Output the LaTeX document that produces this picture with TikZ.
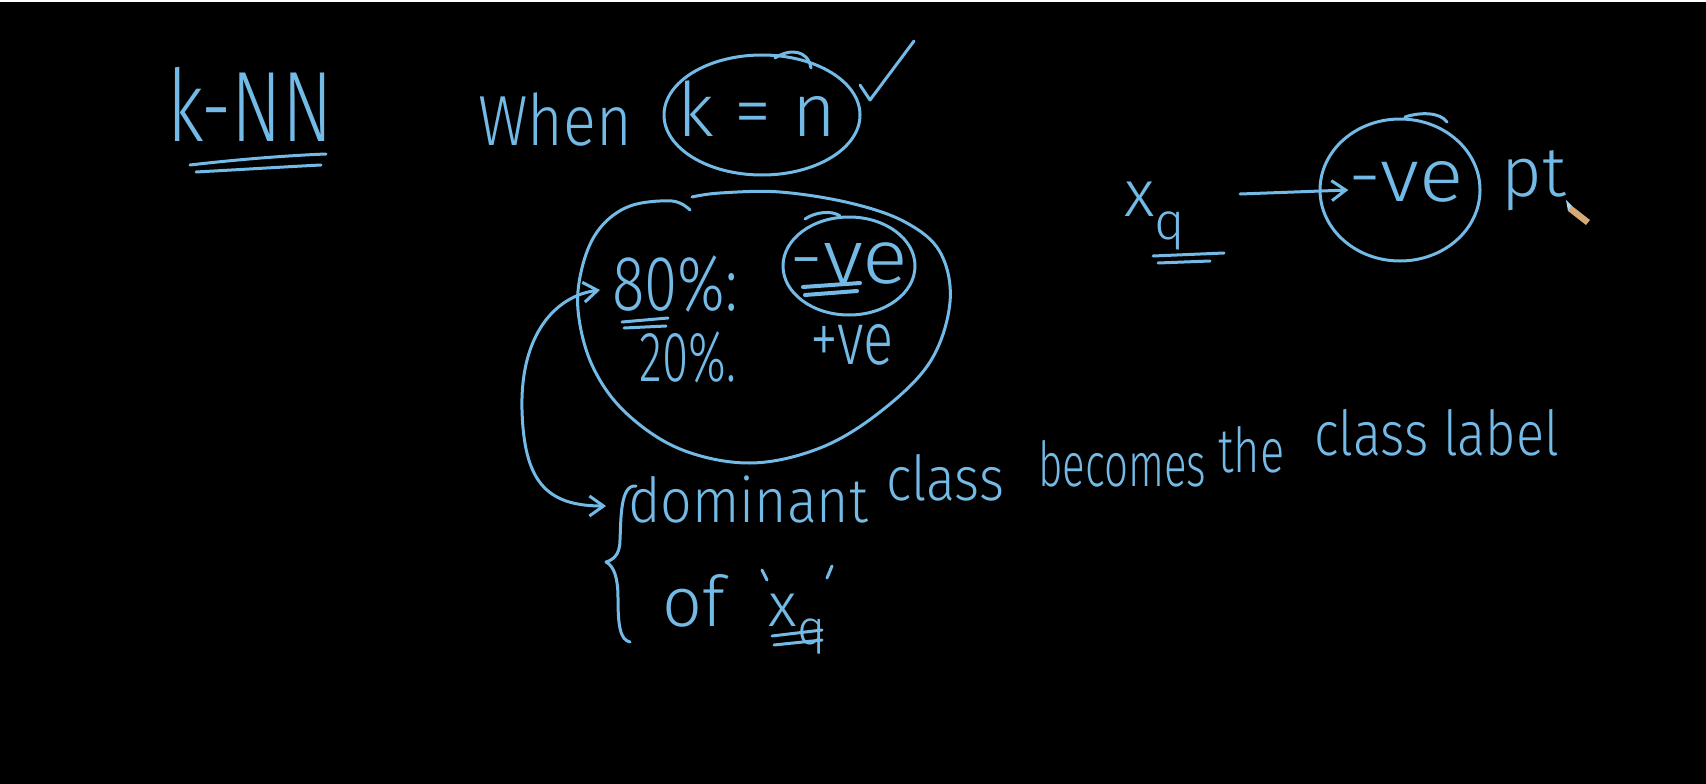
\documentclass[tikz,border=0pt]{standalone}
\usepackage{fontspec}
\IfFontExistsTF{Fira Sans Light}{\setmainfont{Fira Sans Light}}{\setmainfont{Fira Sans}}
\usetikzlibrary{arrows.meta}
\definecolor{hand}{RGB}{116,186,230}
\definecolor{pencil}{RGB}{214,170,120}
\newcommand\fitw[2]{\resizebox{#1pt}{\height}{#2}}
\begin{document}
\begin{tikzpicture}[x=1pt,y=-1pt,
  ink/.style={draw=hand, line width=3pt, line cap=round, line join=round},
  hw/.style={text=hand, inner sep=0pt, anchor=base, font=\fontsize{#1}{#1}\selectfont},
  hw/.default=60,
  word/.style={hw=62, anchor=base west},
  barb/.style={-{Straight Barb[length=14pt,width=20pt,line width=3pt]}},
  dbarb/.style={{Straight Barb[length=14pt,width=20pt,line width=3pt]}-{Straight Barb[length=14pt,width=20pt,line width=3pt]}}]
\fill[black] (0,0) rectangle (1706,784);
\useasboundingbox (0,0) rectangle (1706,784);
\fill[white] (0,0) rectangle (1706,2);

% k-NN title
\node[hw=100] (knn) at (250,141) {\scalebox{0.75}[1]{k-NN}};
\draw[ink] (190,165) .. controls (250,158) and (300,155) .. (326,154);
\draw[ink] (196,172) .. controls (250,169) and (300,166) .. (321,165);

% When k = n
\node[hw=71] (when) at (555,145) {\scalebox{0.86}[1]{When}};
\node[hw=75] (keqn) at (757,136) {k = n};
\draw[ink] (762,115) ellipse [x radius=98, y radius=60];
\draw[ink] (775,58) .. controls (790,48) and (808,50) .. (811,68);
\coordinate (chk0) at (860,85);
\coordinate (chk1) at (870,100);
\coordinate (chk2) at (914,41);
\draw[ink] (chk0) -- (chk1) -- (chk2);

% big blob
\draw[ink] plot[smooth, tension=0.6] coordinates {(690,210) (672,201) (630,206) (600,228) (583,264) (578,310) (592,365) (625,412) (680,449) (750,463) (820,448) (880,412) (930,362) (950,302) (940,252) (905,222) (850,203) (780,192) (720,193) (692,197)};

\node[hw=78] (eighty) at (675,310) {\scalebox{0.77}[1]{80\%:}};
\draw[ink] (622,322) -- (668,318);
\draw[ink] (624,328) -- (666,326);

\node[hw=85] (negmid) at (849,283) {\scalebox{1}[0.9]{-ve}};
\draw[ink] (849,266) ellipse [x radius=66, y radius=49];
\draw[ink] (805,219) .. controls (815,212) and (832,210) .. (840,216);
\draw[ink, line width=4pt] (803,287) -- (860,283);
\draw[ink, line width=4pt] (805,295) -- (857,291);

\node[hw=71] (twenty) at (688,381) {\scalebox{0.67}[1]{20\%.}};
\node[hw=75] (posve) at (852,364) {\scalebox{0.75}[1]{+ve}};

% curved double arrow
\coordinate (ca) at (600,290);
\coordinate (cb) at (606,506);
\draw[ink, dbarb] (ca) .. controls (555,296) and (520,335) .. (522,410) .. controls (524,480) and (545,506) .. (cb);

% brace
\draw[ink] (636,486) .. controls (620,484) and (621,520) .. (620,540) .. controls (620,556) and (612,560) .. (606,562) .. controls (614,566) and (618,578) .. (618,598) .. controls (618,625) and (620,640) .. (630,642);

% dominant class becomes the class label (rising hand-written line)
\node[word] (w1) at (628,522) {\fitw{240}{dominant}};
\node[word] (w2) at (886,500) {\fitw{118}{class}};
\node[word] (w3) at (1038,486) {\fitw{168}{becomes}};
\node[word] (w4) at (1218,472) {\fitw{66}{the}};
\node[word] (w5) at (1314,455) {\fitw{245}{class label}};

% of `x_q'
\node[hw=70] (of) at (694,626) {of};
\node[hw=62] (xq2) at (797,626) {x\raisebox{-0.3em}{\fontsize{48}{48}\selectfont q}};
\draw[ink] (762,570) -- (767,580);
\draw[ink] (832,566) -- (827,578);
\draw[ink] (772,636) -- (822,630);
\draw[ink] (774,645) -- (822,640);

% right side
\node[hw=66] (xq1) at (1155,216) {x\raisebox{-0.35em}{\fontsize{52}{52}\selectfont q}};
\draw[ink] (1153,256) -- (1224,253);
\draw[ink] (1158,263) -- (1210,261);
\node[hw=75] (negr) at (1406,201) {\scalebox{1.1}[1]{-ve}};
\draw[ink] (1400,190) ellipse [x radius=80, y radius=71];
\draw[ink] (1405,117) .. controls (1420,112) and (1440,112) .. (1447,122);
\coordinate (arrS) at (1240,194);
\draw[ink, barb] (arrS) -- (negr.west |- 0,190);
\node[hw=70] (pt) at (1534,196) {pt};

% pencil cursor
\fill[pencil] (1572,206) -- (1590,220) -- (1586,225) -- (1568,211) -- cycle;
\fill[hand!60!white] (1566,200) -- (1572,206) -- (1568,211) -- cycle;
\end{tikzpicture}
\end{document}
